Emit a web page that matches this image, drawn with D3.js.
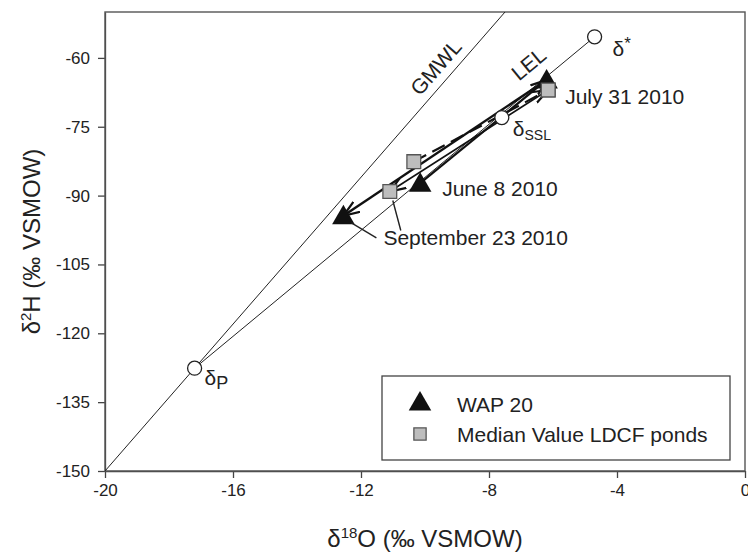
<!DOCTYPE html>
<meta charset="utf-8">
<style>
body { margin: 0; background: #fff; }
svg { font-family: "Liberation Sans", Arial, sans-serif; }
.axis text { font-size: 17px; fill: #222; }
.axis path, .axis line { stroke: #444; stroke-width: 1.3px; }
.ann { font-size: 21px; fill: #222; }
</style>
<svg width="748" height="554"></svg>
<script src="https://d3js.org/d3.v7.min.js"></script>
<script>

// data
var dates = ["June 8 2010", "July 31 2010", "September 23 2010"];
var wapO = [-10.15, -6.2, -12.55];
var wapH = [-87.3, -64.8, -94.4];
var medO = [-10.35, -6.15, -11.1];
var medH = [-82.6, -67.0, -89.1];

var refNames = ["P", "SSL", "*"];
var refO = [-17.2, -7.6, -4.7];
var refH = [-127.6, -73.0, -55.4];

var gmwlO = [-20, -7.5];
var gmwlH = [-150, -50];

var xTicks = [-20, -16, -12, -8, -4, 0];
var yTicks = [-150, -135, -120, -105, -90, -75, -60];

var svg = d3.select("svg"),
    margin = {top: 12, right: 3, bottom: 83, left: 105},
    width = +svg.attr("width") - margin.left - margin.right,
    height = +svg.attr("height") - margin.top - margin.bottom;

var x = d3.scaleLinear().domain([-20, 0]).range([margin.left, margin.left + width]);
var y = d3.scaleLinear().domain([-150, -50]).range([margin.top + height, margin.top]);

var defs = svg.append("defs");
defs.append("clipPath").attr("id", "clip")
  .append("rect")
    .attr("x", margin.left).attr("y", margin.top)
    .attr("width", width).attr("height", height);

defs.append("marker")
    .attr("id", "arrow")
    .attr("viewBox", "0 -7 17 14")
    .attr("refX", 16).attr("refY", 0)
    .attr("markerWidth", 17).attr("markerHeight", 14)
    .attr("markerUnits", "userSpaceOnUse")
    .attr("orient", "auto")
  .append("path")
    .attr("d", "M0,-6L16,0L0,6")
    .attr("fill", "none")
    .attr("stroke", "#111")
    .attr("stroke-width", 2.2);

// axes
svg.append("g")
    .attr("class", "axis")
    .attr("transform", "translate(0," + (margin.top + height) + ")")
    .call(d3.axisBottom(x).tickValues(xTicks).tickSize(7).tickPadding(6).tickSizeOuter(0))
    .selectAll("text").text(function(d) { return d; });

svg.append("g")
    .attr("class", "axis")
    .attr("transform", "translate(" + margin.left + ",0)")
    .call(d3.axisLeft(y).tickValues(yTicks).tickSize(7).tickPadding(8).tickSizeOuter(0))
    .selectAll("text").text(function(d) { return d; });

// frame
svg.append("rect")
    .attr("x", margin.left).attr("y", margin.top)
    .attr("width", width).attr("height", height)
    .attr("fill", "none")
    .attr("stroke", "#555")
    .attr("stroke-width", 1.4);

var plot = svg.append("g").attr("clip-path", "url(#clip)");

// GMWL
plot.append("line")
    .attr("x1", x(gmwlO[0])).attr("y1", y(gmwlH[0]))
    .attr("x2", x(gmwlO[1])).attr("y2", y(gmwlH[1]))
    .attr("stroke", "#222").attr("stroke-width", 1);

// LEL from dP to d*
plot.append("line")
    .attr("x1", x(refO[0])).attr("y1", y(refH[0]))
    .attr("x2", x(refO[2])).attr("y2", y(refH[2]))
    .attr("stroke", "#222").attr("stroke-width", 1);

var gAngle = Math.atan2(y(gmwlH[1]) - y(gmwlH[0]), x(gmwlO[1]) - x(gmwlO[0])) * 180 / Math.PI;
var lAngle = Math.atan2(y(refH[2]) - y(refH[0]), x(refO[2]) - x(refO[0])) * 180 / Math.PI;

svg.append("text").attr("class", "ann")
    .attr("transform", "translate(" + (x(-9.3) - 6) + "," + (y(-64.4) - 6) + ") rotate(" + gAngle + ")")
    .attr("text-anchor", "middle")
    .text("GMWL");

svg.append("text").attr("class", "ann")
    .attr("transform", "translate(" + (x(-6.55) - 2) + "," + (y(-65.8) - 15) + ") rotate(" + lAngle + ")")
    .attr("text-anchor", "middle")
    .text("LEL");

// arrows between sampling dates
function arrow(xs, ys, i, j, dash, w) {
  svg.append("line")
      .attr("x1", x(xs[i])).attr("y1", y(ys[i]))
      .attr("x2", x(xs[j])).attr("y2", y(ys[j]))
      .attr("stroke", "#111")
      .attr("stroke-width", w)
      .attr("stroke-dasharray", dash)
      .attr("marker-end", "url(#arrow)");
}
arrow(medO, medH, 0, 1, "14,7", 2.2);
arrow(medO, medH, 1, 2, null, 1.6);
arrow(wapO, wapH, 0, 1, null, 2.2);
arrow(wapO, wapH, 1, 2, null, 2.4);

// reference circles
svg.selectAll(".ref")
  .data(refNames)
  .join("circle")
    .attr("class", "ref")
    .attr("cx", function(d, i) { return x(refO[i]); })
    .attr("cy", function(d, i) { return y(refH[i]); })
    .attr("r", 7)
    .attr("fill", "#fff")
    .attr("stroke", "#222")
    .attr("stroke-width", 1.3);

var tri = d3.symbol().type(d3.symbolTriangle).size(220);
var sq = d3.symbol().type(d3.symbolSquare).size(190);

svg.selectAll(".med")
  .data(medO)
  .join("path")
    .attr("class", "med")
    .attr("transform", function(d, i) { return "translate(" + x(d) + "," + y(medH[i]) + ")"; })
    .attr("d", sq)
    .attr("fill", "#bdbdbd")
    .attr("stroke", "#555")
    .attr("stroke-width", 1.3);

svg.selectAll(".wap")
  .data(wapO)
  .join("path")
    .attr("class", "wap")
    .attr("transform", function(d, i) { return "translate(" + x(d) + "," + (y(wapH[i]) + 2) + ")"; })
    .attr("d", tri)
    .attr("fill", "#111");

// July square sits on top of its triangle
svg.append("path")
    .attr("transform", "translate(" + x(medO[1]) + "," + y(medH[1]) + ")")
    .attr("d", sq)
    .attr("fill", "#bdbdbd")
    .attr("stroke", "#555")
    .attr("stroke-width", 1.3);

// date labels
svg.append("text").attr("class", "ann")
    .attr("x", x(wapO[0]) + 22).attr("y", y(wapH[0]) + 13)
    .text(dates[0]);
svg.append("text").attr("class", "ann")
    .attr("x", x(medO[1]) + 17).attr("y", y(medH[1]) + 14)
    .text(dates[1]);
svg.append("text").attr("class", "ann")
    .attr("x", x(wapO[2]) + 40).attr("y", y(wapH[2]) + 29)
    .text(dates[2]);

// leader lines for September
svg.append("line")
    .attr("x1", x(wapO[2]) + 8).attr("y1", y(wapH[2]) + 7)
    .attr("x2", x(wapO[2]) + 33).attr("y2", y(wapH[2]) + 22)
    .attr("stroke", "#222").attr("stroke-width", 1.4);
svg.append("line")
    .attr("x1", x(medO[2]) + 3).attr("y1", y(medH[2]) + 9)
    .attr("x2", x(medO[2]) + 11).attr("y2", y(medH[2]) + 39)
    .attr("stroke", "#222").attr("stroke-width", 1.4);

// delta labels
function deltaLabel(i, dx, dy) {
  var t = svg.append("text").attr("class", "ann")
      .attr("x", x(refO[i]) + dx).attr("y", y(refH[i]) + dy);
  t.append("tspan").text("δ");
  if (refNames[i] === "*") {
    t.append("tspan").attr("dy", -7).attr("font-size", 17).text("*");
  } else {
    t.append("tspan").attr("dy", 4).attr("font-size", refNames[i] === "P" ? 18 : 14).text(refNames[i]);
  }
}
deltaLabel(0, 10, 17);
deltaLabel(1, 11, 18);
deltaLabel(2, 18, 19);

// legend
var leg = svg.append("g");
leg.append("rect")
    .attr("x", 382).attr("y", 376)
    .attr("width", 348).attr("height", 84)
    .attr("fill", "#fff")
    .attr("stroke", "#444")
    .attr("stroke-width", 1.3);
leg.append("path")
    .attr("transform", "translate(420,404)")
    .attr("d", tri)
    .attr("fill", "#111");
leg.append("path")
    .attr("transform", "translate(420,434)")
    .attr("d", d3.symbol().type(d3.symbolSquare).size(150))
    .attr("fill", "#bdbdbd")
    .attr("stroke", "#555")
    .attr("stroke-width", 1.3);
leg.append("text").attr("class", "ann").attr("x", 457).attr("y", 412).text("WAP 20");
leg.append("text").attr("class", "ann").attr("x", 457).attr("y", 442).text("Median Value LDCF ponds");

// axis titles
var xt = svg.append("text")
    .attr("x", margin.left + width / 2).attr("y", 547)
    .attr("text-anchor", "middle")
    .attr("font-size", 24).attr("fill", "#222");
xt.append("tspan").text("δ");
xt.append("tspan").attr("dy", -9).attr("font-size", 15).text("18");
xt.append("tspan").attr("dy", 9).text("O (‰ VSMOW)");

var yt = svg.append("text")
    .attr("transform", "translate(40," + (margin.top + height / 2) + ") rotate(-90)")
    .attr("text-anchor", "middle")
    .attr("font-size", 24).attr("fill", "#222");
yt.append("tspan").text("δ");
yt.append("tspan").attr("dy", -9).attr("font-size", 15).text("2");
yt.append("tspan").attr("dy", 9).text("H (‰ VSMOW)");

</script>
